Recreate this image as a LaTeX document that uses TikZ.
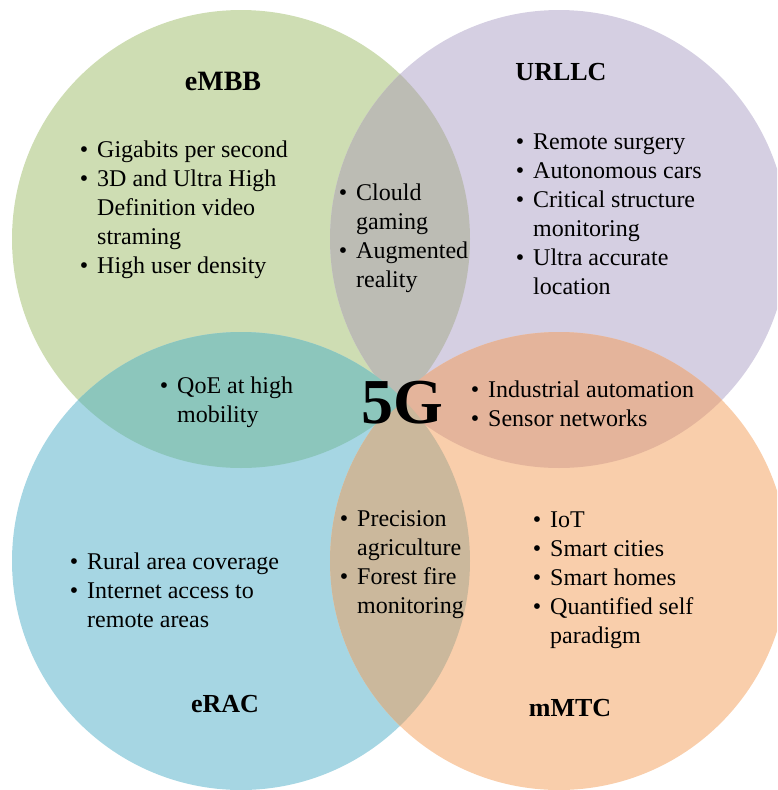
\documentclass[tikz,border=0pt]{standalone}
\usepackage{fontspec}
\setmainfont{Liberation Serif}
\definecolor{cgreen}{HTML}{CEDDB3}
\definecolor{cpurple}{HTML}{D5CFE2}
\definecolor{cblue}{HTML}{A6D6E3}
\definecolor{corange}{HTML}{F9CEAB}
\definecolor{cgp}{HTML}{BCBCB4}
\definecolor{cgb}{HTML}{8CC6BC}
\definecolor{cpo}{HTML}{E4B49B}
\definecolor{cbo}{HTML}{CBB89C}
\newcommand{\bul}{\llap{\textbullet\hspace{9pt}}}
\begin{document}
\begin{tikzpicture}[x=1pt,y=-1pt,
  lst/.style={anchor=base west, inner sep=0pt, font=\fontsize{24}{29}\selectfont},
  ttl/.style={anchor=base, inner sep=0pt, font=\fontsize{26}{30}\selectfont\bfseries}]
\useasboundingbox (0,0) rectangle (777,790);
\clip (0,0) rectangle (777,790);
\def\R{229}
\coordinate (G) at (241,239);
\coordinate (P) at (559,239);
\coordinate (B) at (241,561);
\coordinate (O) at (559,561);
% circles
\fill[cgreen] (G) circle (\R);
\fill[cpurple] (P) circle (\R);
\fill[cblue] (B) circle (\R);
\fill[corange] (O) circle (\R);
% lenses
\begin{scope}\clip (G) circle (\R); \fill[cgp] (P) circle (\R);\end{scope}
\begin{scope}\clip (P) circle (\R); \fill[cpo] (O) circle (\R);\end{scope}
\begin{scope}\clip (B) circle (\R); \fill[cbo] (O) circle (\R);\end{scope}
\begin{scope}\clip (G) circle (\R); \fill[cgb] (B) circle (\R);\end{scope}
% titles
\node[ttl, font=\fontsize{28}{32}\selectfont\bfseries] (tembb) at (223,90) {eMBB};
\node[ttl] (turllc) at (561,80) {URLLC};
\node[ttl] (terac) at (225,712) {eRAC};
\node[ttl] (tmmtc) at (570,716) {mMTC};
\node[anchor=base, inner sep=0pt, font=\fontsize{64}{70}\selectfont\bfseries] (fiveg) at (402,423) {5G};
% lists
\node[lst] (lembb) at (97,157) {\begin{tabular}[t]{@{}l@{}}
\bul Gigabits per second\\
\bul 3D and Ultra High\\
Definition video\\
straming\\
\bul High user density
\end{tabular}};
\node[lst] (lgp) at (356,200) {\begin{tabular}[t]{@{}l@{}}
\bul Clould\\
gaming\\
\bul Augmented\\
reality
\end{tabular}};
\node[lst] (lurllc) at (533,149) {\begin{tabular}[t]{@{}l@{}}
\bul Remote surgery\\
\bul Autonomous cars\\
\bul Critical structure\\
monitoring\\
\bul Ultra accurate\\
location
\end{tabular}};
\node[lst] (lgb) at (177,393) {\begin{tabular}[t]{@{}l@{}}
\bul QoE at high\\
mobility
\end{tabular}};
\node[lst] (lpo) at (488,397) {\begin{tabular}[t]{@{}l@{}}
\bul Industrial automation\\
\bul Sensor networks
\end{tabular}};
\node[lst] (lbo) at (357,526) {\begin{tabular}[t]{@{}l@{}}
\bul Precision\\
agriculture\\
\bul Forest fire\\
monitoring
\end{tabular}};
\node[lst] (lmmtc) at (550,527) {\begin{tabular}[t]{@{}l@{}}
\bul IoT\\
\bul Smart cities\\
\bul Smart homes\\
\bul Quantified self\\
paradigm
\end{tabular}};
\node[lst] (lerac) at (87,569) {\begin{tabular}[t]{@{}l@{}}
\bul Rural area coverage\\
\bul Internet access to\\
remote areas
\end{tabular}};
\end{tikzpicture}
\end{document}
